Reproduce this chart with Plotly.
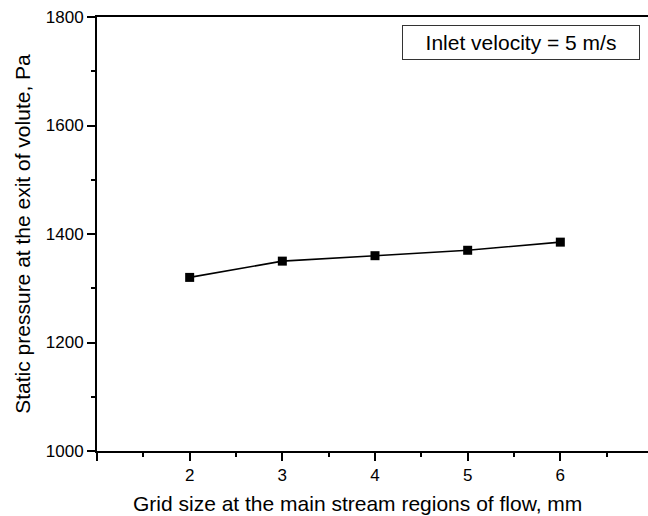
import plotly.graph_objects as go

grid_size = [2, 3, 4, 5, 6]
static_pressure = [1320, 1350, 1360, 1370, 1385]

x_tickvals = [1, 2, 3, 4, 5, 6, 7]
x_ticktext = ["", "2", "3", "4", "5", "6", ""]
y_tickvals = [1000, 1200, 1400, 1600, 1800]

FONT = "Liberation Sans, Arial, sans-serif"

fig = go.Figure()
fig.add_trace(go.Scatter(
    x=grid_size, y=static_pressure, mode="lines+markers",
    line=dict(color="black", width=1.6),
    marker=dict(symbol="square", size=9, color="black"),
    showlegend=False,
))

axis_common = dict(
    showline=True, linecolor="black", linewidth=1.8, mirror=True,
    showgrid=False, zeroline=False, ticks="outside", ticklen=8, tickwidth=1.6,
    tickcolor="black", tickfont=dict(family=FONT, size=17, color="black"),
)

fig.update_xaxes(
    range=[1, 7], tickmode="array", tickvals=x_tickvals, ticktext=x_ticktext,
    minor=dict(ticks="outside", ticklen=4, tickwidth=1.6, tickcolor="black", dtick=0.5, tick0=1),
    **axis_common,
)
fig.update_yaxes(
    range=[1000, 1800], tickmode="array", tickvals=y_tickvals,
    minor=dict(ticks="outside", ticklen=4, tickwidth=1.6, tickcolor="black", dtick=100, tick0=1000),
    title=dict(text="Static pressure at the exit of volute, Pa",
               font=dict(family=FONT, size=21, color="black"), standoff=10),
    **axis_common,
)

# x-axis title as annotation (centred like the reference)
fig.add_annotation(
    xref="paper", yref="paper", x=0.468, y=0, xanchor="center", yanchor="middle",
    yshift=-52, text="Grid size at the main stream regions of flow, mm", showarrow=False,
    font=dict(family=FONT, size=21, color="black"),
)

fig.add_annotation(
    xref="paper", yref="paper", x=0.548, y=0.982, xanchor="left", yanchor="top",
    text="Inlet velocity = 5 m/s", showarrow=False,
    font=dict(family=FONT, size=21, color="black"),
    bordercolor="#333333", borderwidth=1, borderpad=4, bgcolor="white",
    width=228, height=25,
)

fig.update_layout(
    width=655, height=516,
    margin=dict(l=97, r=0, t=17, b=65),
    paper_bgcolor="white", plot_bgcolor="white",
)

fig.write_html("out.html")
